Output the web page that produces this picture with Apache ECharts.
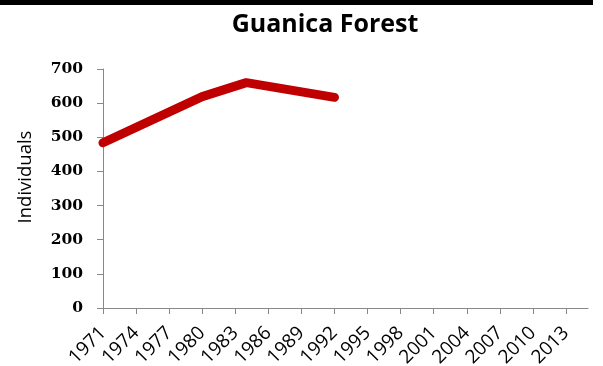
<!DOCTYPE html>
<html><head><meta charset="utf-8">
<script src="https://cdn.jsdelivr.net/npm/echarts@6/dist/echarts.min.js"></script>
<style>html,body{margin:0;padding:0;background:#fff}#c{width:603px;height:366px}</style>
</head><body><div id="c"></div>
<script>
const years = [1971, 1980, 1984, 1992];
const individuals = [484, 619, 660, 617];
const xTicks = [1971,1974,1977,1980,1983,1986,1989,1992,1995,1998,2001,2004,2007,2010,2013];
const yTicks = [0,100,200,300,400,500,600,700];

const chart = echarts.init(document.getElementById('c'));
chart.setOption({
  animation: false,
  title: {
    text: 'Guanica Forest', left: 320, top: 7, textAlign: 'center',
    textStyle: {fontFamily: 'Open Sans', fontWeight: 'bold', fontSize: 25, color: '#000'}
  },
  graphic: [{type: 'rect', shape: {x: 0, y: 0, width: 593, height: 5}, style: {fill: '#000'}}],
  grid: {left: 103, right: 15, top: 69, bottom: 58, containLabel: false, outerBoundsMode: 'none'},
  xAxis: {
    type: 'value', min: 1971, max: 2015, interval: 3,
    splitLine: {show: false},
    axisLine: {lineStyle: {color: '#888', width: 1}},
    axisTick: {show: true, length: 6, lineStyle: {color: '#888'}, customValues: xTicks},
    axisLabel: {rotate: 45, margin: 22, fontFamily: 'Open Sans', fontSize: 19, color: '#000',
      customValues: xTicks, formatter: v => String(v), hideOverlap: false}
  },
  yAxis: {
    type: 'value', min: 0, max: 700, interval: 100,
    name: 'Individuals', nameLocation: 'middle', nameGap: 68,
    nameTextStyle: {fontFamily: 'Open Sans', fontSize: 18.5, color: '#000', padding: [0, 0, 0, 23]},
    splitLine: {show: false},
    axisLine: {show: true, lineStyle: {color: '#888', width: 1}},
    axisTick: {show: true, length: 6, lineStyle: {color: '#888'}},
    axisLabel: {margin: 20, fontFamily: 'DejaVu Serif', fontWeight: 'bold', fontSize: 15.5, color: '#000'}
  },
  series: [{
    type: 'line', data: years.map((y, i) => [y, individuals[i]]),
    showSymbol: false, symbol: 'none',
    lineStyle: {color: '#C00000', width: 9, cap: 'round', join: 'round'}
  }]
});
</script></body></html>
